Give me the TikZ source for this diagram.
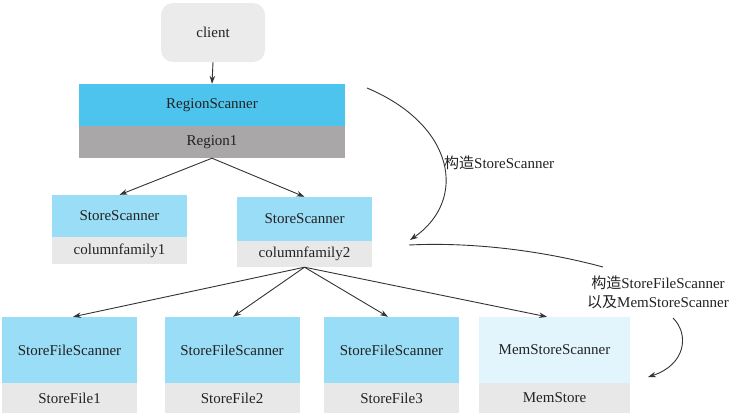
\documentclass[tikz,border=0pt]{standalone}
\usepackage{fontspec}
\setmainfont{Liberation Serif}
\newfontfamily\cjk{Noto Sans CJK SC}
\usetikzlibrary{arrows.meta}
\definecolor{clientgray}{HTML}{EBEBEB}
\definecolor{rsblue}{HTML}{4DC4EE}
\definecolor{regiongray}{HTML}{A9A7A7}
\definecolor{ssblue}{HTML}{9ADDF6}
\definecolor{lightgray}{HTML}{E8E8E8}
\definecolor{memblue}{HTML}{E3F5FC}
\definecolor{ink}{HTML}{222222}
\definecolor{linec}{HTML}{333333}
\tikzset{
  box/.style={rectangle, inner sep=0pt, text=ink, font=\fontsize{15}{17}\selectfont},
  conn/.style={draw=linec, line width=0.9pt, -{Stealth[length=8pt,width=5.5pt]}},
  curv/.style={draw=linec, line width=0.9pt},
  lbl/.style={text=ink, font=\fontsize{15}{19}\selectfont, inner sep=0pt}
}
\begin{document}
\begin{tikzpicture}[x=1pt,y=-1pt]
\useasboundingbox (0,0) rectangle (732,416);
% client
\node[box, fill=clientgray, rounded corners=12pt, minimum width=104pt, minimum height=59pt] (client) at (213,32.5) {client};
% region
\node[box, fill=rsblue, minimum width=266pt, minimum height=42pt] (rs) at (212,105) {RegionScanner};
\node[box, fill=regiongray, minimum width=266pt, minimum height=32pt] (r1) at (212,142) {Region1};
% store scanners
\node[box, fill=ssblue, minimum width=135pt, minimum height=42pt] (ss1) at (119.5,216) {StoreScanner};
\node[box, fill=lightgray, minimum width=135pt, minimum height=27pt] (cf1) at (119.5,250.5) {columnfamily1};
\node[box, fill=ssblue, minimum width=135pt, minimum height=44pt] (ss2) at (304.5,219) {StoreScanner};
\node[box, fill=lightgray, minimum width=135pt, minimum height=26pt] (cf2) at (304.5,254) {columnfamily2};
% bottom row
\node[box, fill=ssblue, minimum width=135pt, minimum height=66pt] (sfs1) at (69.5,350) {StoreFileScanner};
\node[box, fill=lightgray, minimum width=135pt, minimum height=30pt] (sf1) at (69.5,398) {StoreFile1};
\node[box, fill=ssblue, minimum width=135pt, minimum height=66pt] (sfs2) at (232,350) {StoreFileScanner};
\node[box, fill=lightgray, minimum width=135pt, minimum height=30pt] (sf2) at (232,398) {StoreFile2};
\node[box, fill=ssblue, minimum width=135pt, minimum height=66pt] (sfs3) at (391.5,350) {StoreFileScanner};
\node[box, fill=lightgray, minimum width=135pt, minimum height=30pt] (sf3) at (391.5,398) {StoreFile3};
\node[box, fill=memblue, minimum width=151pt, minimum height=66pt] (mss) at (554.5,350) {MemStoreScanner};
\node[box, fill=lightgray, minimum width=151pt, minimum height=30pt] (ms) at (554.5,398) {MemStore};
% connectors
\draw[conn] (client.south) -- (rs.north);
\draw[conn] (r1.south) -- (ss1.north);
\draw[conn] (r1.south) -- (ss2.north);
\draw[conn] (cf2.south) -- ([xshift=3.5pt]sfs1.north);
\draw[conn] (cf2.south) -- ([xshift=1pt]sfs2.north);
\draw[conn] (cf2.south) -- ([xshift=-3.5pt]sfs3.north);
\draw[conn] (cf2.south) -- ([xshift=-7.5pt]mss.north);
% curved annotations
\coordinate (c1a) at (367,88);
\coordinate (c1b) at (410,240);
\draw[conn] (c1a) .. controls (455,125) and (468,200) .. (c1b);
\node[lbl, anchor=west] (l1) at (444,163) {{\cjk 构造}StoreScanner};
\coordinate (c2a) at (409,245);
\coordinate (c2b) at (603,267);
\draw[curv] (c2a) .. controls (470,242) and (540,250) .. (c2b);
\node[lbl, align=center] (l2) at (658,292) {{\cjk 构造}StoreFileScanner\\{\cjk 以及}MemStoreScanner};
\coordinate (c3a) at (673,318);
\coordinate (c3b) at (648,377);
\draw[conn] (c3a) .. controls (690,335) and (685,365) .. (c3b);
\end{tikzpicture}
\end{document}
